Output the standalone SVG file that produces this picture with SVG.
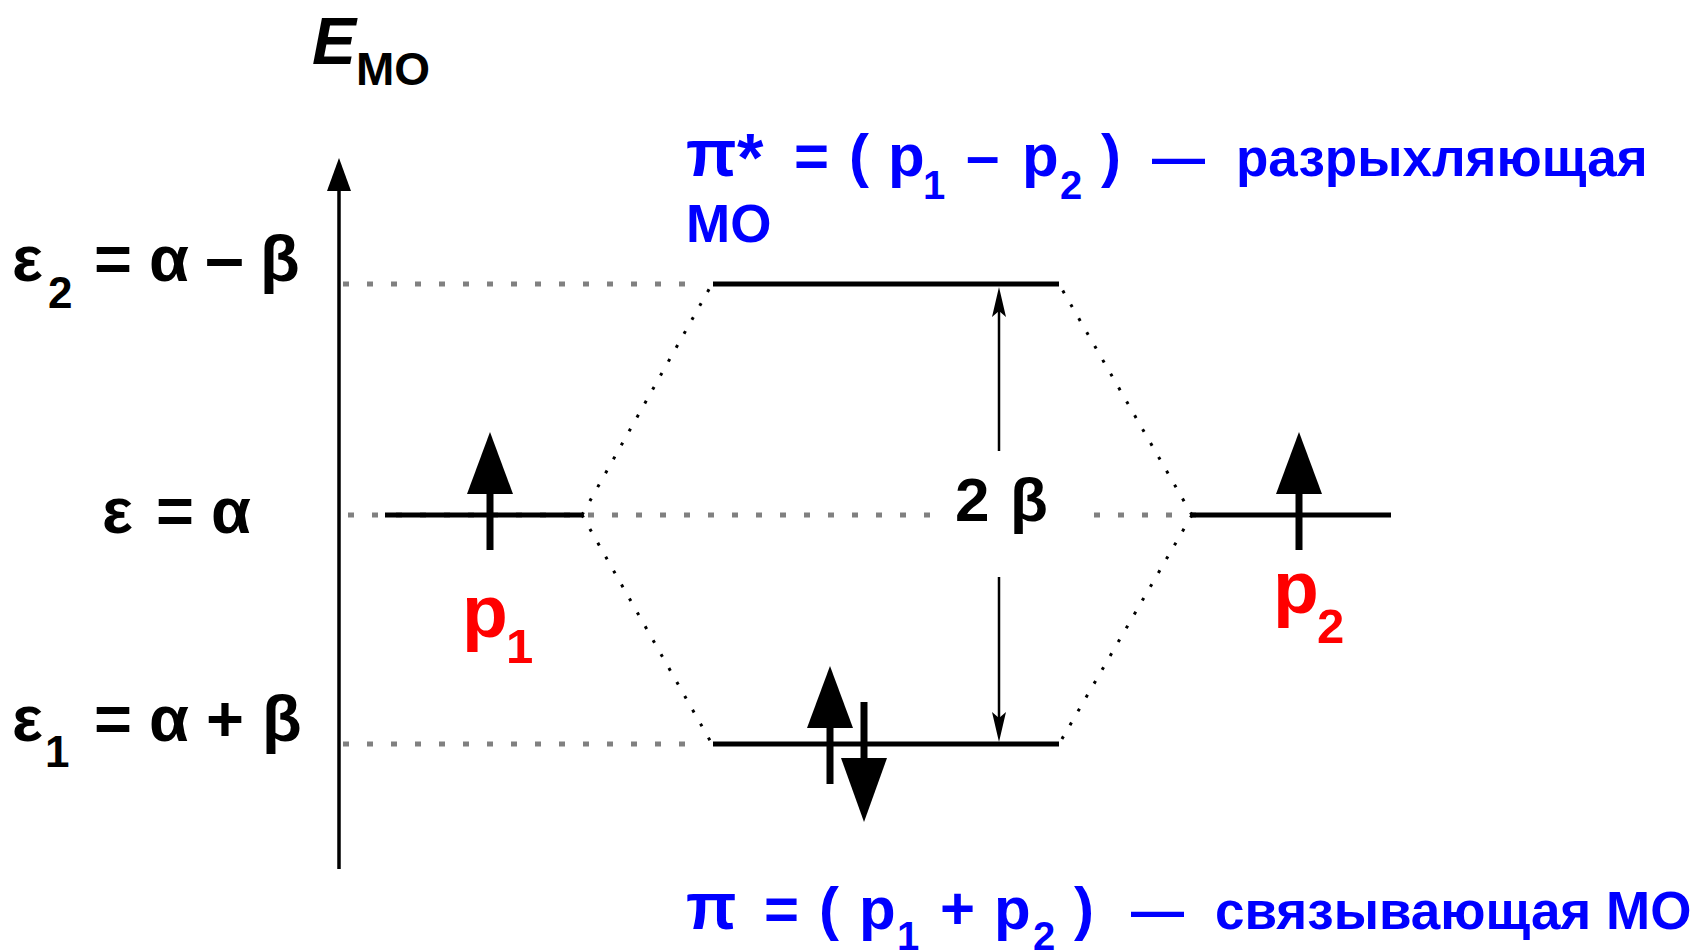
<svg xmlns="http://www.w3.org/2000/svg" width="1699" height="951" viewBox="0 0 1699 951">
  <style>
    text { font-family: "Liberation Sans", Arial, sans-serif; font-weight: bold; }
    .blk { fill: #000; font-size: 62px; }
    .gr { font-size: 65px; }
    .eq { font-size: 65px; }
    .dash { font-size: 70px; }
    .sub { font-size: 44px; }
    .blue { fill: #0000FF; font-size: 53px; }
    .lat { font-size: 60px; }
    .star { font-size: 68px; }
    .bsub { font-size: 40px; }
    .pi { font-size: 66px; }
    .red { fill: #FF0000; font-size: 75px; }
    .rsub { font-size: 49px; }
    .level { stroke: #000; stroke-width: 5; fill: none; }
    .guide { stroke: #808080; stroke-width: 5; stroke-dasharray: 6 18; fill: none; }
    .corr { stroke: #000; stroke-width: 3; stroke-dasharray: 3 13; fill: none; }
    .shaft { stroke: #000; stroke-width: 7; fill: none; }
  </style>

  <g id="guides">
    <line class="guide" x1="343" y1="284" x2="686" y2="284"/>
    <line class="guide" x1="343" y1="744" x2="686" y2="744"/>
    <line class="guide" x1="348" y1="515" x2="930" y2="515"/>
    <line class="guide" x1="1094" y1="515" x2="1196" y2="515"/>
  </g>

  <g id="axis">
    <line x1="339" y1="188" x2="339" y2="869" stroke="#000" stroke-width="3.5"/>
    <polygon points="339,158 327,191 351,191" fill="#000"/>
    <text x="312" y="64" font-size="66" font-style="italic">E<tspan x="356" y="85" font-size="46" font-style="normal">МО</tspan></text>
  </g>

  <g id="energy-labels">
    <text class="blk" y="281"><tspan class="gr" x="12">ε</tspan><tspan class="sub" x="48" y="308">2</tspan><tspan class="eq" x="94" y="281">=</tspan><tspan class="gr" x="149">α</tspan><tspan class="dash" x="205">–</tspan><tspan class="gr" x="260">β</tspan></text>
    <text class="blk" y="533"><tspan class="gr" x="102">ε</tspan><tspan class="eq" x="156">=</tspan><tspan class="gr" x="211">α</tspan></text>
    <text class="blk" y="741"><tspan class="gr" x="12">ε</tspan><tspan class="sub" x="45" y="767">1</tspan><tspan class="eq" x="94" y="741">=</tspan><tspan class="gr" x="149">α</tspan><tspan class="eq" x="206">+</tspan><tspan class="gr" x="262">β</tspan></text>
  </g>

  <g id="connectors">
    <line class="corr" x1="582" y1="515" x2="712" y2="284"/>
    <line class="corr" x1="582" y1="515" x2="712" y2="744"/>
    <line class="corr" x1="1192" y1="515" x2="1059" y2="284"/>
    <line class="corr" x1="1192" y1="515" x2="1059" y2="744"/>
    <g id="gap-arrow">
      <line x1="999" y1="300" x2="999" y2="451" stroke="#000" stroke-width="2.5"/>
      <line x1="999" y1="577" x2="999" y2="730" stroke="#000" stroke-width="2.5"/>
      <path d="M999,287 L992,317 L999,311 L1006,317 Z" fill="#000"/>
      <path d="M999,742 L992,712 L999,718 L1006,712 Z" fill="#000"/>
    </g>
  </g>

  <g id="p1">
    <line class="level" x1="385" y1="515" x2="582" y2="515"/>
    <line class="shaft" x1="490" y1="490" x2="490" y2="550"/>
    <polygon points="490,432 467,494 513,494" fill="#000"/>
    <text class="red" x="462" y="637">p<tspan class="rsub" x="506" y="663">1</tspan></text>
  </g>

  <g id="p2">
    <line class="level" x1="1192" y1="515" x2="1391" y2="515"/>
    <line class="shaft" x1="1299" y1="490" x2="1299" y2="550"/>
    <polygon points="1299,432 1276,494 1322,494" fill="#000"/>
    <text class="red" x="1273" y="613">p<tspan class="rsub" x="1317" y="643">2</tspan></text>
  </g>

  <g id="pi-star">
    <line class="level" x1="713" y1="284" x2="1059" y2="284"/>
    <text class="blue" y="176"><tspan class="pi" x="686">π</tspan><tspan class="star" x="737" y="181">*</tspan><tspan class="lat" x="794" y="176">=</tspan><tspan class="lat" x="849">(</tspan><tspan class="lat" x="888">p</tspan><tspan class="bsub" x="923" y="199">1</tspan><tspan class="lat" x="966" y="176">–</tspan><tspan class="lat" x="1022">p</tspan><tspan class="bsub" x="1060" y="199">2</tspan><tspan class="lat" x="1101" y="176">)</tspan><tspan x="1152">—</tspan><tspan x="1236">разрыхляющая</tspan></text>
    <text class="blue" x="686" y="242">МО</text>
  </g>

  <g id="pi">
    <line class="level" x1="713" y1="744" x2="1059" y2="744"/>
    <line class="shaft" x1="830" y1="724" x2="830" y2="784"/>
    <polygon points="830,666 807,728 853,728" fill="#000"/>
    <line class="shaft" x1="864" y1="702" x2="864" y2="762"/>
    <polygon points="864,822 841,758 887,758" fill="#000"/>
    <text class="blue" y="929"><tspan class="pi" x="686">π</tspan><tspan class="lat" x="764">=</tspan><tspan class="lat" x="819">(</tspan><tspan class="lat" x="859">p</tspan><tspan class="bsub" x="897" y="950">1</tspan><tspan class="lat" x="940" y="929">+</tspan><tspan class="lat" x="994">p</tspan><tspan class="bsub" x="1033" y="950">2</tspan><tspan class="lat" x="1074" y="929">)</tspan><tspan x="1131">—</tspan><tspan x="1215">связывающая МО</tspan></text>
  </g>

  <g id="gap-label">
    <text class="blk" font-size="64" y="521"><tspan x="955">2</tspan><tspan x="1010">β</tspan></text>
  </g>
</svg>
